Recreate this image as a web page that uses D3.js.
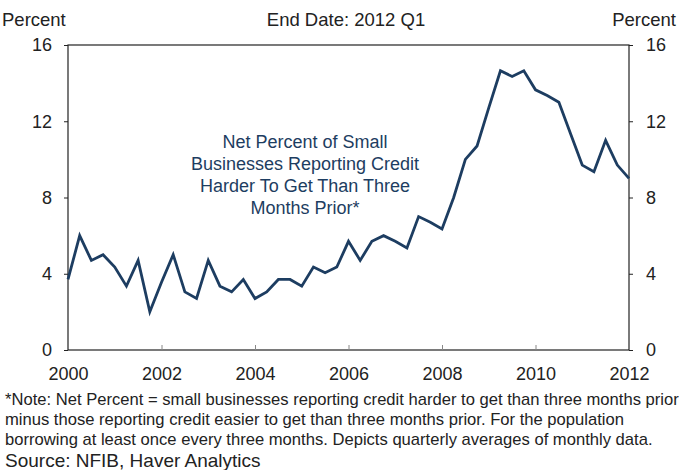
<!DOCTYPE html>
<html>
<head>
<meta charset="utf-8">
<script src="https://cdn.jsdelivr.net/npm/d3@7"></script>
<style>
  body { margin: 0; background: #fff; }
  text { font-family: "Liberation Sans", Arial, sans-serif; }
</style>
</head>
<body>
<div id="chart"></div>
<script>
// quarterly net percent, 2000 Q1 .. 2012 Q1
var startYear = 2000;
var netPercent = [
  3.7, 6.0, 4.7, 5.0, 4.35, 3.35, 4.7, 2.0,
  3.55, 5.0, 3.05, 2.7, 4.7, 3.35, 3.05, 3.7,
  2.7, 3.05, 3.7, 3.7, 3.35, 4.35, 4.05, 4.35,
  5.7, 4.7, 5.7, 6.0, 5.7, 5.35, 7.0, 6.7,
  6.35, 8.0, 10.0, 10.7, 12.7, 14.65, 14.35, 14.65,
  13.65, 13.35, 13.0, 11.35, 9.7, 9.35, 11.0, 9.7,
  9.0
];
var yTicks = [0, 4, 8, 12, 16];
var xTicks = [2000, 2002, 2004, 2006, 2008, 2010, 2012];
var seriesLabel = ["Net Percent of Small", "Businesses Reporting Credit", "Harder To Get Than Three", "Months Prior*"];
var noteLines = [
  "*Note: Net Percent = small businesses reporting credit harder to get than three months prior",
  "minus those reporting credit easier to get than three months prior. For the population",
  "borrowing at least once every three months. Depicts quarterly averages of monthly data."
];

var W = 685, H = 470;
var mLeft = 68, mRight = 629, mTop = 45, mBottom = 350;

var svg = d3.select("#chart").append("svg").attr("width", W).attr("height", H);

var x = d3.scaleLinear().domain([2000, 2012]).range([mLeft, mRight]);
var y = d3.scaleLinear().domain([0, 16]).range([mBottom, mTop]);

// frame
svg.append("rect").attr("x", mLeft).attr("y", mTop)
  .attr("width", mRight - mLeft).attr("height", mBottom - mTop)
  .attr("fill", "none").attr("stroke", "#222").attr("stroke-width", 1.2);

// axes
var yl = svg.append("g").attr("transform", "translate(" + mLeft + ",0)")
  .call(d3.axisLeft(y).tickValues(yTicks).tickSize(4).tickPadding(12).tickFormat(d3.format("d")));
var yr = svg.append("g").attr("transform", "translate(" + mRight + ",0)")
  .call(d3.axisRight(y).tickValues(yTicks).tickSize(4).tickPadding(13).tickFormat(d3.format("d")));
var xb = svg.append("g").attr("transform", "translate(0," + mBottom + ")")
  .call(d3.axisBottom(x).tickValues(xTicks).tickSize(-5).tickPadding(17).tickFormat(d3.format("d")));

[yl, yr, xb].forEach(function(g){
  g.select(".domain").remove();
  g.selectAll("line").attr("stroke", "#222");
  g.selectAll("text").attr("font-size", 18).attr("fill", "#222").attr("font-family", "Liberation Sans, Arial, sans-serif");
});
xb.selectAll("line").attr("stroke", "#888");
xb.selectAll(".tick").filter(function(d){ return d == 2000 || d == 2012; }).select("line").remove();

// series line
var line = d3.line()
  .x(function(d, i){ return x(startYear + i / 4); })
  .y(function(d){ return y(d); });

svg.append("path").datum(netPercent)
  .attr("d", line).attr("fill", "none")
  .attr("stroke", "#1d3d61").attr("stroke-width", 2.8)
  .attr("stroke-linejoin", "miter");

// series label
svg.append("text").attr("x", 305).attr("y", 148)
  .attr("text-anchor", "middle").attr("font-size", 18).attr("fill", "#1d3d61")
  .selectAll("tspan").data(seriesLabel).enter().append("tspan")
  .attr("x", 305).attr("dy", function(d, i){ return i ? 22 : 0; })
  .text(function(d){ return d; });

// headers
svg.append("text").attr("x", 2).attr("y", 26).attr("font-size", 18.5).attr("fill", "#222").text("Percent");
svg.append("text").attr("x", 676).attr("y", 26).attr("text-anchor", "end").attr("font-size", 18.5).attr("fill", "#222").text("Percent");
svg.append("text").attr("x", 346).attr("y", 26).attr("text-anchor", "middle").attr("font-size", 18.5).attr("fill", "#222").text("End Date: 2012 Q1");

// footnote
svg.append("g").selectAll("text").data(noteLines).enter().append("text")
  .attr("x", 5).attr("y", function(d, i){ return 405 + i * 20; })
  .attr("font-size", 16.6).attr("fill", "#222")
  .text(function(d){ return d; });
svg.append("text").attr("x", 5).attr("y", 467).attr("font-size", 19).attr("fill", "#222")
  .text("Source: NFIB, Haver Analytics");
</script>
</body>
</html>
